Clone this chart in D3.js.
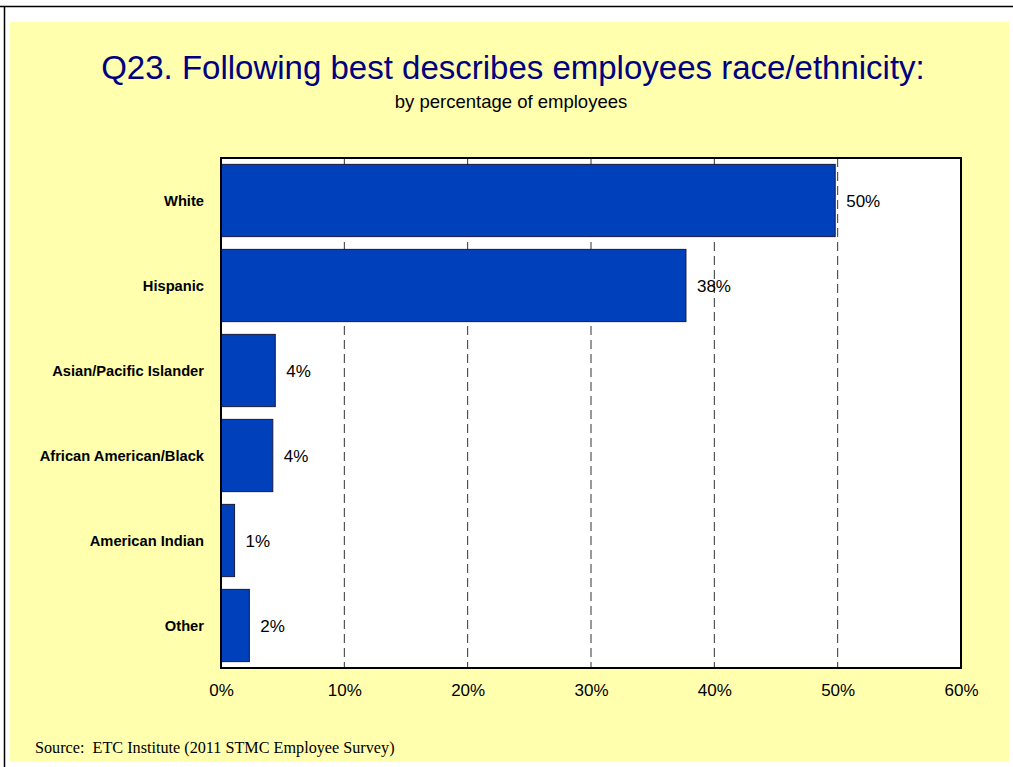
<!DOCTYPE html>
<html><head><meta charset="utf-8">
<script src="https://cdn.jsdelivr.net/npm/d3@7"></script>
<style>body{margin:0;background:#fff}svg{display:block}</style>
</head><body><svg id="c" width="1013" height="767"></svg>
<script>
const categories = ["White","Hispanic","Asian/Pacific Islander","African American/Black","American Indian","Other"];
const values = [49.8, 37.7, 4.4, 4.2, 1.1, 2.3];
const valueLabels = ["50%","38%","4%","4%","1%","2%"];
const tickValues = [0,10,20,30,40,50,60];

const svg = d3.select("#c");
svg.append("line").attr("x1",0).attr("x2",1013).attr("y1",6.5).attr("y2",6.5).attr("stroke","#000").attr("stroke-width",1.5);
svg.append("line").attr("x1",4.5).attr("x2",4.5).attr("y1",6).attr("y2",767).attr("stroke","#000").attr("stroke-width",1.5);
svg.append("rect").attr("x",10).attr("y",22).attr("width",999).attr("height",740).attr("fill","#FFFFAE");

svg.append("text").attr("x",513).attr("y",79).attr("text-anchor","middle")
  .attr("font-family","Liberation Sans, Arial, sans-serif").attr("font-size",33).attr("fill","#000080")
  .text("Q23. Following best describes employees race/ethnicity:");
svg.append("text").attr("x",511).attr("y",108).attr("text-anchor","middle")
  .attr("font-family","Liberation Sans, Arial, sans-serif").attr("font-size",18.5).attr("fill","#000")
  .text("by percentage of employees");

const L=221, R=961, T=158, B=668;
const x = d3.scaleLinear().domain([0,60]).range([L,R]);
const y = d3.scaleBand().domain(categories).range([T,B]).paddingInner(0.15).paddingOuter(0.075);

svg.append("rect").attr("x",L).attr("y",T).attr("width",R-L).attr("height",B-T).attr("fill","#fff");

svg.append("g").selectAll("line").data(tickValues.filter(d=>d>0&&d<60)).join("line")
  .attr("x1",d=>x(d)).attr("x2",d=>x(d)).attr("y1",T).attr("y2",B)
  .attr("stroke","#333").attr("stroke-width",1).attr("stroke-dasharray","9,5");

svg.append("g").selectAll("rect").data(categories).join("rect")
  .attr("x",x(0)).attr("y",d=>y(d)).attr("width",(d,i)=>x(values[i])-x(0)).attr("height",y.bandwidth())
  .attr("fill","#0040BB").attr("stroke","#1a1a3a").attr("stroke-width",1);

svg.append("g").selectAll("text").data(categories).join("text")
  .attr("x",(d,i)=>x(values[i])+11).attr("y",d=>y(d)+y.bandwidth()/2+6)
  .attr("font-family","Liberation Sans, Arial, sans-serif").attr("font-size",17).attr("fill","#000")
  .text((d,i)=>valueLabels[i]);

svg.append("g").selectAll("text").data(categories).join("text")
  .attr("x",204).attr("y",d=>y(d)+y.bandwidth()/2+5).attr("text-anchor","end")
  .attr("font-family","Liberation Sans, Arial, sans-serif").attr("font-size",14.7).attr("font-weight","bold").attr("fill","#000")
  .text(d=>d);

const ax = d3.axisBottom(x).tickValues(tickValues).tickFormat(d=>d+"%").tickSize(0).tickPadding(16);
const g = svg.append("g").attr("transform",`translate(0,${B})`).call(ax);
g.select(".domain").remove();
g.selectAll("text").attr("font-family","Liberation Sans, Arial, sans-serif").attr("font-size",17).attr("fill","#000");

svg.append("rect").attr("x",L).attr("y",T).attr("width",R-L).attr("height",B-T).attr("fill","none").attr("stroke","#000").attr("stroke-width",2);

svg.append("text").attr("x",35).attr("y",753)
  .attr("font-family","Liberation Serif, Times New Roman, serif").attr("font-size",16.2).attr("fill","#000")
  .attr("xml:space","preserve").style("white-space","pre")
  .text("Source:  ETC Institute (2011 STMC Employee Survey)");
</script></body></html>
